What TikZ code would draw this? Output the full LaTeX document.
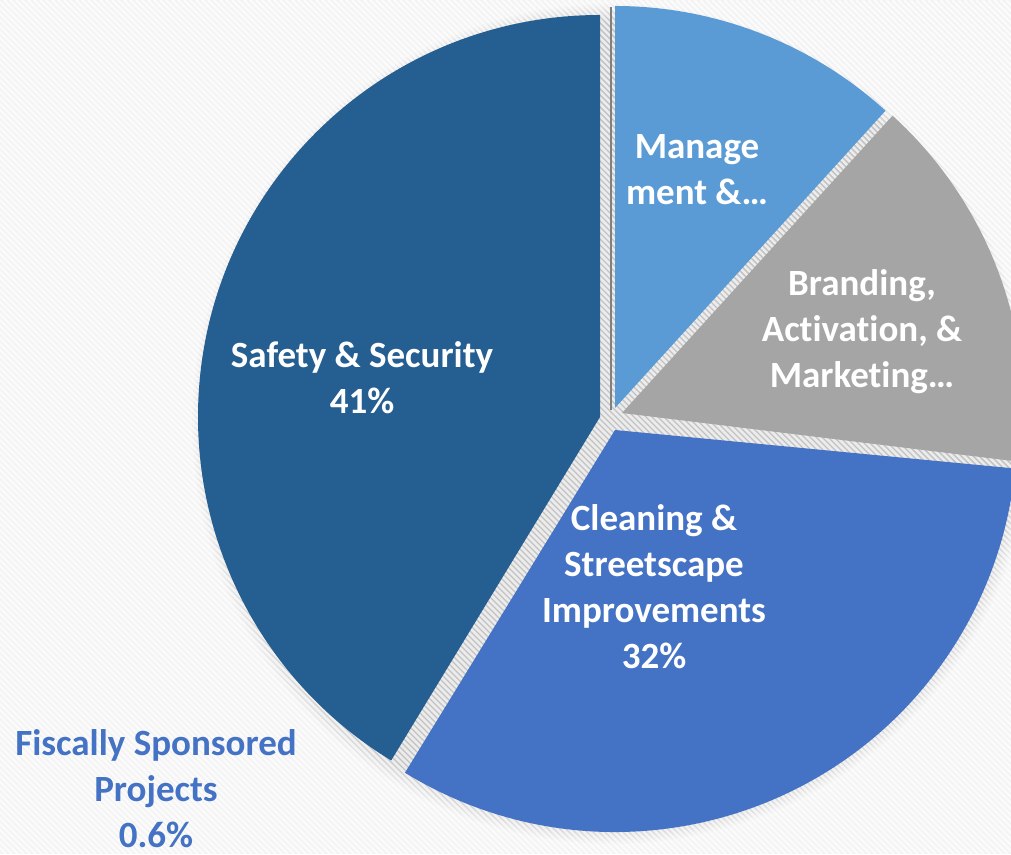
\documentclass[tikz,border=0pt]{standalone}
\usepackage{fontspec}
\setmainfont{Carlito}[Ligatures=NoCommon]
\definecolor{safetycol}{HTML}{255E91}
\definecolor{mgmtcol}{HTML}{5B9BD5}
\definecolor{brandcol}{HTML}{A5A5A5}
\definecolor{cleancol}{HTML}{4472C4}
\definecolor{fiscalcol}{HTML}{808080}
\definecolor{bgcol}{HTML}{F2F2F2}
\begin{document}
\begin{tikzpicture}[x=1pt,y=1pt,
  lbl/.style={font=\bfseries\fontsize{37}{46}\selectfont, text=white, align=center, inner sep=0pt},
  stripe/.style={white, opacity=0.7, line width=2.5pt},
  shadowring/.style={fill=black, fill opacity=0.016, draw=none}]
\useasboundingbox (0,0) rectangle (1011,854);
\fill[bgcol] (0,0) rectangle (1011,854);
% soft shadow round the pie
\foreach \k in {0,...,11} \fill[shadowring] (612,430) circle[radius=420-1.6*\k];
% background stripes
\begin{scope}
\clip (0,0) rectangle (1011,854);
\foreach \s in {-860,-854,...,1011} \draw[stripe] (\s,854) -- ++(854,-854);
\end{scope}
% slices
\fill[safetycol] (600,437) -- ++(90:402) arc[start angle=90, end angle=238.7, radius=402] -- cycle;
\fill[mgmtcol] (615,446) -- ++(47.7:402) arc[start angle=47.7, end angle=90, radius=402] -- cycle;
\fill[brandcol] (622,441) -- ++(-7:402) arc[start angle=-7, end angle=47.7, radius=402] -- cycle;
\fill[cleancol] (615,424) -- ++(-121.5:402) arc[start angle=-121.5, end angle=-5.5, radius=402] -- cycle;
\draw[fiscalcol, line width=2pt] (611,444) -- ++(0,403);
% labels
\node[lbl] (safety) at (362,476) {Safety \& Security\\41\%};
\node[lbl] (mgmt) at (697,684) {Manage\\ment \&…};
\node[lbl] (brand) at (862,522) {Branding,\\Activation, \&\\Marketing…};
\node[lbl] (clean) at (654,267) {Cleaning \&\\Streetscape\\Improvements\\32\%};
\node[lbl, text=cleancol] (fiscal) at (156,65) {Fiscally Sponsored\\Projects\\0.6\%};
\end{tikzpicture}
\end{document}
